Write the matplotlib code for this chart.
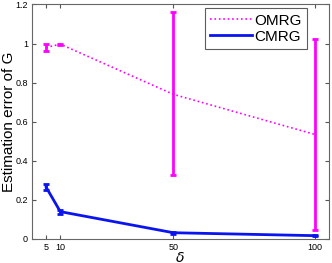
import numpy as np
import matplotlib
matplotlib.use('Agg')
import matplotlib.pyplot as plt

plt.rcParams['font.family'] = ['Liberation Sans', 'DejaVu Sans']

delta = [5, 10, 50, 100]
omrg = [0.98, 0.997, 0.74, 0.535]
omrg_lo = [0.96, 0.993, 0.325, 0.046]
omrg_hi = [1.0, 1.0, 1.16, 1.024]
cmrg = [0.265, 0.14, 0.032, 0.017]
cmrg_lo = [0.25, 0.13, 0.028, 0.013]
cmrg_hi = [0.28, 0.15, 0.036, 0.021]

fig = plt.figure(figsize=(3.32, 2.63), dpi=100)
ax = fig.add_axes([0.0964, 0.0913, 0.8946, 0.8917])

om = np.array(omrg)
cm = np.array(cmrg)
ax.errorbar(delta, om, yerr=[om - np.array(omrg_lo), np.array(omrg_hi) - om],
            color='#ff00ff', ls=':', lw=1.2, elinewidth=2, capsize=2.5,
            capthick=2, label='OMRG')
ax.errorbar(delta, cm, yerr=[cm - np.array(cmrg_lo), np.array(cmrg_hi) - cm],
            color='#0a14ee', ls='-', lw=2, elinewidth=2, capsize=2.5,
            capthick=2, label='CMRG')

ax.set_xlim(0, 105)
ax.set_ylim(0, 1.2)
ax.set_xticks(delta)
ax.set_yticks([0, 0.2, 0.4, 0.6, 0.8, 1, 1.2])
ax.set_yticklabels(['0', '0.2', '0.4', '0.6', '0.8', '1', '1.2'])
ax.tick_params(direction='in', top=True, right=True, labelsize=6.5, length=3,
               color='#555555', pad=3)
for s in ax.spines.values():
    s.set_color('#666666')
    s.set_linewidth(0.8)
ax.set_xlabel(r'$\delta$', fontsize=10)
ax.xaxis.set_label_coords(0.497, -0.096)
ax.xaxis.label.set_va('baseline')
ax.set_ylabel('Estimation error of G', fontsize=11)
ax.yaxis.set_label_coords(-0.079, 0.5)
ax.yaxis.label.set_va('center')

h, l = ax.get_legend_handles_labels()
h = [x[0] for x in h]
leg = ax.legend(h, l, loc='upper right', bbox_to_anchor=(0.925, 0.983),
                fontsize=11, fancybox=False, handlelength=2.7,
                borderpad=0.35, labelspacing=0.12, handletextpad=0.15,
                borderaxespad=0)
leg.get_frame().set_edgecolor('#333333')
leg.get_frame().set_linewidth(0.8)

fig.savefig('out.png', dpi=100)
